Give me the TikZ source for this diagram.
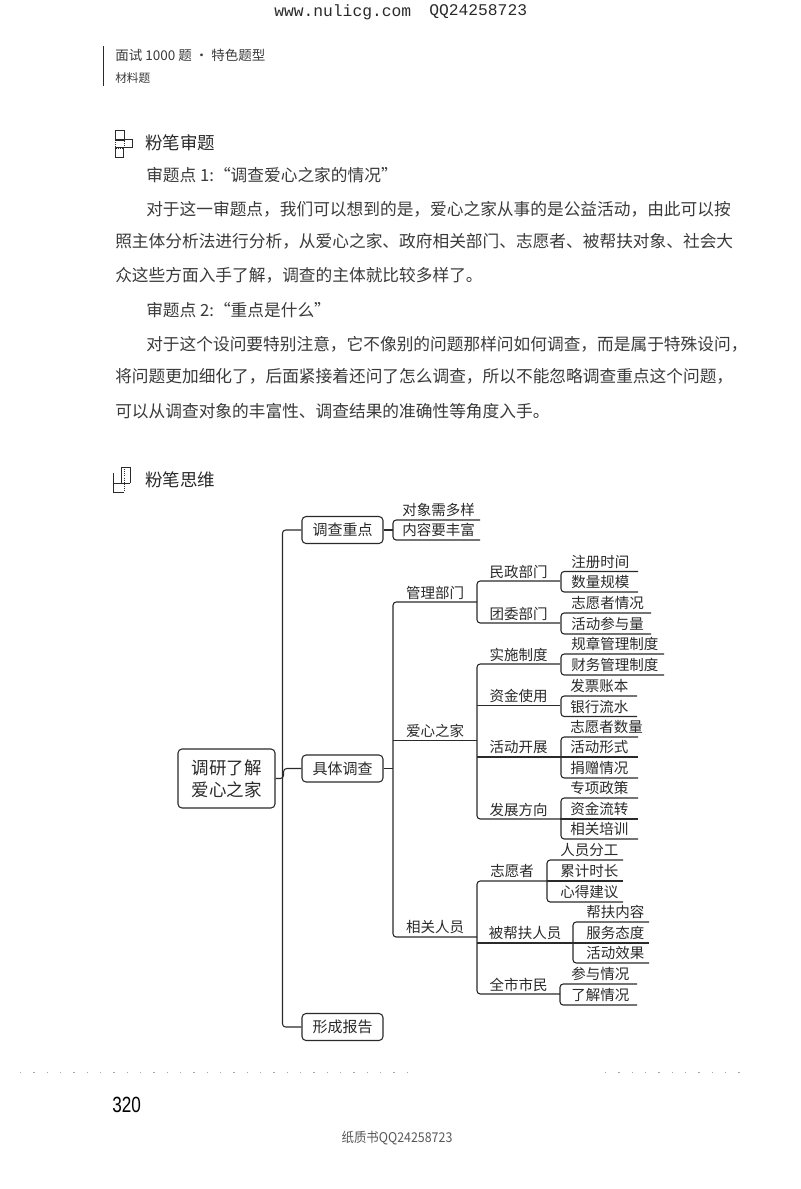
\documentclass[tikz,border=0pt]{standalone}
\usepackage{fontspec}
\setmainfont{Noto Sans CJK SC}
\newfontfamily\monof{Liberation Mono}
\newfontfamily\latf{Liberation Sans}
\definecolor{ink}{HTML}{2A2A2A}
\definecolor{bodyink}{HTML}{3A3A3A}
\newcommand\pxf[2]{\fontsize{\dimexpr #1pt*3/4\relax}{\dimexpr #2pt*3/4\relax}\selectfont}
\tikzset{
  x=0.75pt,y=-0.75pt,
  ln/.style={draw=ink,line width=0.8pt},
  rc/.style={ln,rounded corners=2.4pt},
  boxnode/.style={draw=ink,line width=0.8pt,rounded corners=3pt,align=center,text=ink,inner sep=0pt,font=\pxf{15}{18}},
  leaftxt/.style={anchor=west,inner sep=0pt,text=ink,font=\pxf{14.5}{16}},
  midtxt/.style={anchor=center,inner sep=0pt,text=ink,font=\pxf{14.5}{16}},
  bodytxt/.style={anchor=west,inner sep=0pt,text=bodyink,font=\pxf{16.7}{18}},
  headtxt/.style={anchor=west,inner sep=0pt,text=ink,font=\pxf{17.5}{20}},
  icon/.style={draw=ink,line width=0.6pt},
}
% name, x left, x right, y of line, text
\newcommand\midl[5]{%
  \coordinate (#1l) at (#2,#4);\coordinate (#1r) at (#3,#4);
  \node[midtxt] (#1) at ({(#2+#3)/2},#4-9.5) {#5};}
% name, x left, x right, y of line, text offset, text
\newcommand\leafl[6]{%
  \coordinate (#1l) at (#2,#4);\coordinate (#1r) at (#3,#4);
  \node[leaftxt] (#1) at (#2+#5,#4-10) {#6};}
\begin{document}
\begin{tikzpicture}
\useasboundingbox (0,0) rectangle (800,1189);
\fill[white] (0,0) rectangle (800,1189);

% page header
\node[anchor=west,inner sep=0pt,text=ink,font=\monof\pxf{16.3}{18}] (site) at (274,12) {www.nulicg.com};
\node[anchor=west,inner sep=0pt,text=ink,font=\monof\pxf{16.3}{18}] (qq) at (429,12) {QQ24258723};
\draw[ink,line width=0.7pt] (103,46) -- (103,86);
\node[anchor=west,inner sep=0pt,text=bodyink,font=\pxf{13.5}{16}] (h1) at (115,55) {面试 1000 题 · 特色题型};
\node[anchor=west,inner sep=0pt,text=bodyink,font=\pxf{11.7}{14}] (h2) at (115,78) {材料题};

% section 1
\draw[icon] (115,130) rectangle (124,140);
\draw[icon,densely dotted] (115,140) rectangle (124,148);
\draw[icon] (115,157) -- (123,157) -- (123,148) (115,148) -- (115,157);
\draw[icon] (115,139) -- (132,139) -- (132,147) -- (115,147);
\node[headtxt] (s1) at (145,143) {粉笔审题};
\node[bodytxt] (p1) at (146,175) {审题点 1:“调查爱心之家的情况”};
\node[bodytxt] (p2) at (146,209) {对于这一审题点，我们可以想到的是，爱心之家从事的是公益活动，由此可以按};
\node[bodytxt] (p3) at (115,241) {照主体分析法进行分析，从爱心之家、政府相关部门、志愿者、被帮扶对象、社会大};
\node[bodytxt] (p4) at (115,275) {众这些方面入手了解，调查的主体就比较多样了。};
\node[bodytxt] (p5) at (146,310) {审题点 2:“重点是什么”};
\node[bodytxt] (p6) at (146,344) {对于这个设问要特别注意，它不像别的问题那样问如何调查，而是属于特殊设问，};
\node[bodytxt] (p7) at (115,376) {将问题更加细化了，后面紧接着还问了怎么调查，所以不能忽略调查重点这个问题，};
\node[bodytxt] (p8) at (115,411) {可以从调查对象的丰富性、调查结果的准确性等角度入手。};

% section 2
\draw[icon] (121,483) -- (121,467) -- (130,467) -- (130,483);
\draw[icon] (113,483) -- (130,483);
\draw[icon] (113,473) -- (113,492) -- (124,492);
\draw[icon,densely dotted] (124,469) -- (124,492);
\node[headtxt] (s2) at (145,480) {粉笔思维};

% main boxes
\node[boxnode,minimum width=72.75pt,minimum height=44.25pt,font=\pxf{17.5}{22}] (root) at (226.5,778.5) {调研了解\\爱心之家};
\node[boxnode,minimum width=60.75pt,minimum height=20.25pt] (kc) at (342.5,530) {调查重点};
\node[boxnode,minimum width=60.75pt,minimum height=20.25pt] (jt) at (342.5,768.5) {具体调查};
\node[boxnode,minimum width=60.75pt,minimum height=20.25pt] (xc) at (342.5,1027) {形成报告};

% level 3
\midl{gl}{393}{477}{602}{管理部门}
\midl{ax}{393}{477}{740.5}{爱心之家}
\midl{xg}{393}{477}{937}{相关人员}

% level 4
\midl{mz}{477}{560}{581}{民政部门}
\midl{tw}{477}{560}{623}{团委部门}
\midl{ss}{477}{560}{664}{实施制度}
\midl{zj}{477}{560}{705.5}{资金使用}
\midl{hd}{477}{560}{757}{活动开展}
\midl{fz}{477}{560}{819}{发展方向}
\midl{zy}{477}{547}{881}{志愿者}
\midl{bb}{477}{573}{943}{被帮扶人员}
\midl{qs}{477}{560}{994}{全市市民}

% leaves
\leafl{a1}{393}{480}{520}{9}{对象需多样}
\leafl{a2}{393}{480}{540}{9}{内容要丰富}
\leafl{b1}{561}{638}{571.5}{10}{注册时间}
\leafl{b2}{561}{638}{592}{10}{数量规模}
\leafl{c1}{561}{651}{613}{10}{志愿者情况}
\leafl{c2}{561}{651}{634}{10}{活动参与量}
\leafl{d1}{561}{664}{654}{10}{规章管理制度}
\leafl{d2}{561}{664}{675}{10}{财务管理制度}
\leafl{e1}{561}{637}{696}{9}{发票账本}
\leafl{e2}{561}{637}{716.5}{9}{银行流水}
\leafl{f1}{561}{638}{737}{9}{志愿者数量}
\leafl{f2}{561}{638}{757}{9}{活动形式}
\leafl{f3}{561}{638}{778}{9}{捐赠情况}
\leafl{g1}{561}{638}{798}{9}{专项政策}
\leafl{g2}{561}{638}{819}{9}{资金流转}
\leafl{g3}{561}{638}{839}{9}{相关培训}
\leafl{k1}{547}{623}{860}{13}{人员分工}
\leafl{k2}{547}{623}{881}{13}{累计时长}
\leafl{k3}{547}{623}{902}{13}{心得建议}
\leafl{m1}{573}{649}{922}{13}{帮扶内容}
\leafl{m2}{573}{649}{943}{13}{服务态度}
\leafl{m3}{573}{649}{963}{13}{活动效果}
\leafl{n1}{560}{637}{984}{11}{参与情况}
\leafl{n2}{560}{637}{1005}{11}{了解情况}

% connectors: trunk
\draw[rc] (kc.west) -- ++(-19,0) |- (xc.west);
\draw[rc] (root.east) -- ++(8,0) |- (jt.west);
\draw[ln] (kc.east) -- (a1l |- kc.east);
\draw[ln] (jt.east) -- (gll |- jt.east);
\draw[rc] (glr) -- (gll) -- (xgl) -- (xgr);
\draw[ln] (axl) -- (axr);
% level 4
\draw[rc] (mzr) -- (mzl) -- (twl) -- (twr);
\draw[ln] (glr) -- (mzl |- glr);
\draw[rc] (ssr) -- (ssl) -- (fzl) -- (fzr);
\draw[ln] (zjl) -- (zjr);
\draw[ln] (hdl) -- (f2r);
\draw[ln] (fzr) -- (g2r);
\draw[rc] (zyr) -- (zyl) -- (qsl) -- (qsr);
\draw[ln] (bbl) -- (bbr);
\draw[ln] (zyr) -- (k2r);
\draw[ln] (bbr) -- (m2r);
% brackets
\draw[rc] (a1r) -- (a1l) -- (a2l) -- (a2r);
\draw[rc] (b1r) -- (b1l) -- (b2l) -- (b2r);
\draw[rc] (c1r) -- (c1l) -- (c2l) -- (c2r);
\draw[rc] (d1r) -- (d1l) -- (d2l) -- (d2r);
\draw[rc] (e1r) -- (e1l) -- (e2l) -- (e2r);
\draw[rc] (f1r) -- (f1l) -- (f3l) -- (f3r);
\draw[rc] (g1r) -- (g1l) -- (g3l) -- (g3r);
\draw[rc] (k1r) -- (k1l) -- (k3l) -- (k3r);
\draw[rc] (m1r) -- (m1l) -- (m3l) -- (m3r);
\draw[rc] (n1r) -- (n1l) -- (n2l) -- (n2r);

% footer
\draw[gray!70,line width=0.6pt,dash pattern=on 1pt off 9pt] (20,1072) -- (415,1072);
\draw[gray!70,line width=0.6pt,dash pattern=on 1pt off 9pt] (605,1072) -- (750,1072);
\node[anchor=west,inner sep=0pt,text=black] (pg) at (112,1105) {\scalebox{0.78}[1]{\latf\pxf{22}{24}320}};
\node[anchor=center,inner sep=0pt,text=black!65] (ft) at (397,1138) {\scalebox{0.92}[1]{\pxf{13.5}{16}纸质书QQ24258723}};
\end{tikzpicture}
\end{document}
